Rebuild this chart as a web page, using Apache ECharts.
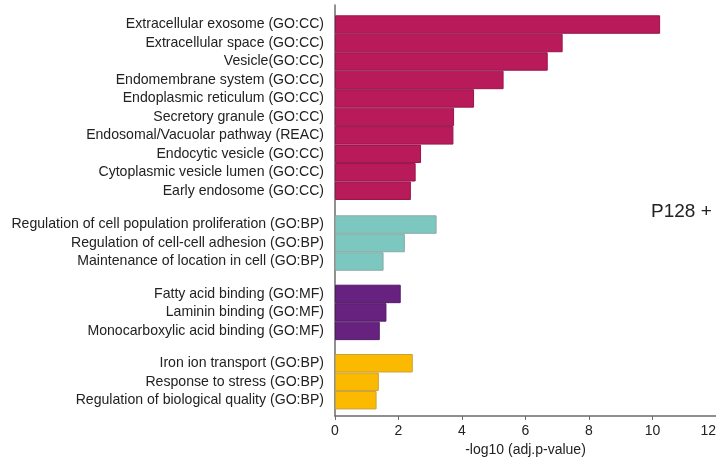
<!DOCTYPE html>
<html>
<head>
<meta charset="utf-8">
<script src="https://cdn.jsdelivr.net/npm/echarts@6/dist/echarts.min.js"></script>
<style>html,body{margin:0;padding:0;background:#fff}#c{width:716px;height:458px}</style>
</head>
<body>
<div id="c"></div>
<script>
const ccCategories = ["Extracellular exosome (GO:CC)","Extracellular space (GO:CC)","Vesicle(GO:CC)","Endomembrane system (GO:CC)","Endoplasmic reticulum (GO:CC)","Secretory granule (GO:CC)","Endosomal/Vacuolar pathway (REAC)","Endocytic vesicle (GO:CC)","Cytoplasmic vesicle lumen (GO:CC)","Early endosome (GO:CC)"];
const ccValues = [10.24, 7.17, 6.70, 5.31, 4.38, 3.75, 3.73, 2.71, 2.54, 2.39];
const bp1Categories = ["Regulation of cell population proliferation (GO:BP)","Regulation of cell-cell adhesion (GO:BP)","Maintenance of location in cell (GO:BP)"];
const bp1Values = [3.20, 2.20, 1.53];
const mfCategories = ["Fatty acid binding (GO:MF)","Laminin binding (GO:MF)","Monocarboxylic acid binding (GO:MF)"];
const mfValues = [2.07, 1.62, 1.41];
const bp2Categories = ["Iron ion transport (GO:BP)","Response to stress (GO:BP)","Regulation of biological quality (GO:BP)"];
const bp2Values = [2.45, 1.38, 1.31];
const xTicks = [0, 2, 4, 6, 8, 10, 12];

const FONT = "Liberation Sans, Arial, sans-serif";
const groups = [
  {cats: ccCategories, vals: ccValues, color: '#B81A5A', border: '#98164B', top: 15.3, rows: 10},
  {cats: bp1Categories, vals: bp1Values, color: '#7CC8C0', border: '#8AA9A6', top: 215.3, rows: 3},
  {cats: mfCategories, vals: mfValues, color: '#66227E', border: '#521A68', top: 284.7, rows: 3},
  {cats: bp2Categories, vals: bp2Values, color: '#FBBA00', border: '#C9A23A', top: 354, rows: 3}
];
const rowH = 18.47;
const xMin = xTicks[0], xMax = xTicks[xTicks.length - 1], xInt = xTicks[1] - xTicks[0];

const grid = [{left: 335, right: 0, top: 5, height: 411, outerBoundsMode: 'none', containLabel: false}];
const xAxis = [{
  gridIndex: 0, type: 'value', min: xMin, max: xMax, interval: xInt,
  name: '-log10 (adj.p-value)', nameLocation: 'middle', nameGap: 25,
  nameTextStyle: {fontSize: 14, color: '#222', fontFamily: FONT},
  axisLine: {show: true, lineStyle: {color: '#6b6b6b', width: 1.5}},
  axisTick: {show: true, length: 4, lineStyle: {color: '#6b6b6b'}},
  axisLabel: {fontSize: 14, color: '#222', fontFamily: FONT, margin: 8, alignMaxLabel: 'right'},
  splitLine: {show: false}
}];
const yAxis = [{
  gridIndex: 0, type: 'value', min: 0, max: 1,
  axisLine: {show: true, lineStyle: {color: '#6b6b6b', width: 1.5}},
  axisTick: {show: false}, axisLabel: {show: false}, splitLine: {show: false}
}];
const series = [];
groups.forEach((g, i) => {
  const gi = i + 1;
  grid.push({left: 335, right: 0, top: g.top, height: rowH * g.rows, outerBoundsMode: 'none', containLabel: false});
  xAxis.push({gridIndex: gi, type: 'value', min: xMin, max: xMax, show: false});
  yAxis.push({
    gridIndex: gi, type: 'category', inverse: true, data: g.cats,
    axisLine: {show: false}, axisTick: {show: false},
    axisLabel: {fontSize: 14.1, color: '#222', fontFamily: FONT, margin: 11}
  });
  series.push({
    type: 'bar', xAxisIndex: gi, yAxisIndex: gi, data: g.vals,
    barCategoryGap: 0, barWidth: '100%',
    itemStyle: {color: g.color, borderColor: g.border, borderWidth: 1},
    animation: false
  });
});

const chart = echarts.init(document.getElementById('c'), null, {renderer: 'canvas'});
chart.setOption({
  animation: false,
  title: {text: 'P128 +', left: 646, top: 197, textStyle: {fontSize: 19, fontWeight: 'normal', color: '#222', fontFamily: FONT}},
  grid, xAxis, yAxis, series
});
</script>
</body>
</html>
